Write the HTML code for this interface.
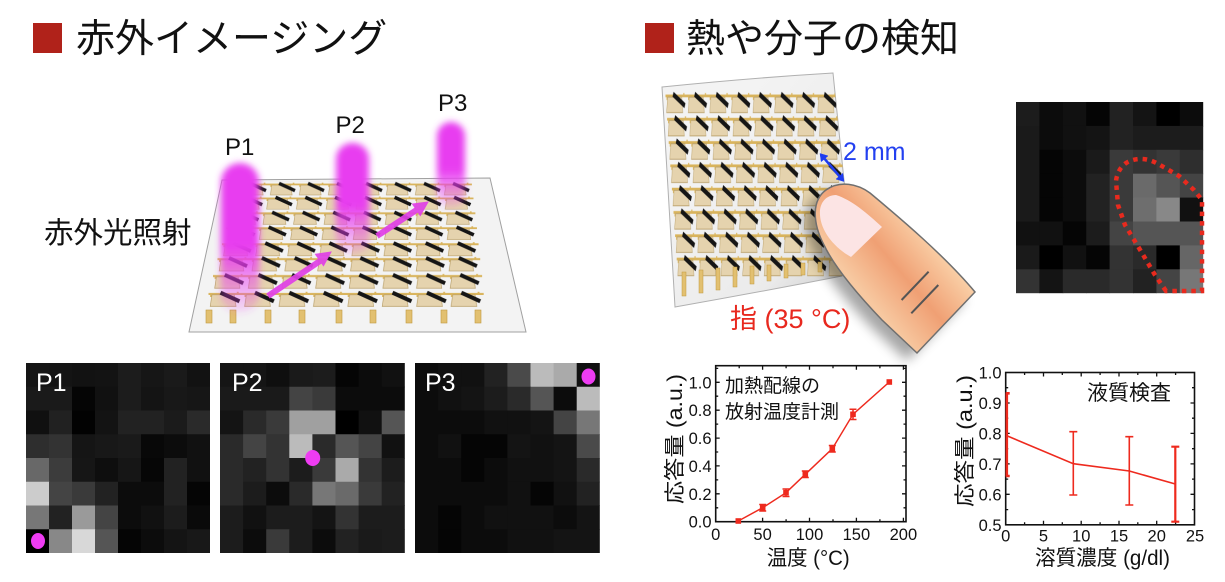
<!DOCTYPE html>
<html>
<head>
<meta charset="utf-8">
<style>
html,body{margin:0;padding:0;background:#fff;}
svg{display:block;}
.lat{font-family:"Liberation Sans",Arial,sans-serif;}
.jp{font-family:"Liberation Sans","Noto Sans CJK JP",sans-serif;}
</style>
</head>
<body>
<svg width="1225" height="582" viewBox="0 0 1225 582" xmlns="http://www.w3.org/2000/svg">
<defs>
  <pattern id="cellL" patternUnits="userSpaceOnUse" width="40" height="20">
    <path d="M0 4.5 H40" stroke="#d9b45c" stroke-width="2.4"/>
    <path d="M3 4.5 V8 M34 4.5 V2" stroke="#d9b45c" stroke-width="2.2"/>
    <polygon points="4,5.5 30,5.5 32,19 2,19" fill="#e5d3ae" stroke="#b9a06a" stroke-width="0.8"/>
    <line x1="14" y1="3" x2="36" y2="13" stroke="#151515" stroke-width="4.6"/>
  </pattern>
  <clipPath id="sheetL"><polygon points="222,180 490,178 526,332 189,332"/></clipPath>
  <clipPath id="sheetR"><path d="M662,87 Q750,78 833,73 L846,200 L842,276 Q760,292 675,307 Z"/></clipPath>
  <filter id="bl" x="-60%" y="-30%" width="220%" height="160%"><feGaussianBlur stdDeviation="3.5"/></filter>
  <filter id="sh" x="-30%" y="-30%" width="160%" height="160%"><feGaussianBlur stdDeviation="6"/></filter>
  <linearGradient id="beamG" x1="0" y1="0" x2="0" y2="1">
    <stop offset="0" stop-color="#e83cf0" stop-opacity="1"/>
    <stop offset="0.55" stop-color="#e83cf0" stop-opacity="1"/>
    <stop offset="0.78" stop-color="#e83cf0" stop-opacity="0.5"/>
    <stop offset="1" stop-color="#e83cf0" stop-opacity="0.12"/>
  </linearGradient>
  <linearGradient id="fingerG" gradientUnits="userSpaceOnUse" x1="866" y1="296" x2="930" y2="242">
    <stop offset="0" stop-color="#f7c8a0"/>
    <stop offset="0.5" stop-color="#f0a074"/>
    <stop offset="1" stop-color="#f9cda4"/>
  </linearGradient>
  <linearGradient id="sheetRG" gradientUnits="userSpaceOnUse" x1="700" y1="150" x2="850" y2="280">
    <stop offset="0" stop-color="#f3f3f3"/>
    <stop offset="0.7" stop-color="#ebebeb"/>
    <stop offset="1" stop-color="#cfcfcf"/>
  </linearGradient>
</defs>

<!-- ===== Titles ===== -->
<rect x="33" y="23" width="29" height="30" fill="#b0221a"/>
<text x="76" y="52" class="jp" font-size="39" fill="#111">赤外イメージング</text>
<rect x="645" y="23" width="29" height="30" fill="#b0221a"/>
<text x="686" y="52" class="jp" font-size="39" fill="#111">熱や分子の検知</text>

<!-- ===== Left illustration ===== -->
<text x="44" y="243" class="jp" font-size="29.5" fill="#111">赤外光照射</text>
<polygon points="222,180 490,178 526,332 189,332" fill="#f3f3f3" stroke="#a0a0a0" stroke-width="1"/>
<g clip-path="url(#sheetL)">
  <rect width="320" height="20" fill="url(#cellL)" transform="translate(239.9,181.2) scale(0.725)"/>
  <rect width="320" height="20" fill="url(#cellL)" transform="translate(235.4,195.05) scale(0.744)"/>
  <rect width="320" height="20" fill="url(#cellL)" transform="translate(230.9,209.9) scale(0.764)"/>
  <rect width="320" height="20" fill="url(#cellL)" transform="translate(226.4,224.7) scale(0.783)"/>
  <rect width="320" height="20" fill="url(#cellL)" transform="translate(221.95,240.6) scale(0.802)"/>
  <rect width="320" height="20" fill="url(#cellL)" transform="translate(217.5,255.4) scale(0.821)"/>
  <rect width="320" height="20" fill="url(#cellL)" transform="translate(213,272.3) scale(0.841)"/>
  <rect width="320" height="20" fill="url(#cellL)" transform="translate(208.5,290.1) scale(0.86)"/>
  <g fill="#e2c070" stroke="#c09a40" stroke-width="0.6">
    <rect x="206" y="310" width="6" height="13"/>
    <rect x="230" y="310" width="6" height="13"/>
    <rect x="265" y="310" width="6" height="13"/>
    <rect x="299" y="310" width="6" height="13"/>
    <rect x="336" y="310" width="6" height="13"/>
    <rect x="370" y="310" width="6" height="13"/>
    <rect x="406" y="310" width="6" height="13"/>
    <rect x="441" y="310" width="6" height="13"/>
    <rect x="475" y="310" width="6" height="13"/>
  </g>
</g>
<!-- beams -->
<rect x="221" y="163" width="38" height="150" rx="19" fill="url(#beamG)" filter="url(#bl)"/>
<rect x="336" y="143" width="33" height="112" rx="16" fill="url(#beamG)" filter="url(#bl)"/>
<rect x="437" y="122" width="28" height="86" rx="14" fill="url(#beamG)" filter="url(#bl)"/>
<!-- arrows -->
<g fill="#e040e6" stroke="#e040e6" opacity="0.92">
  <line x1="268" y1="296" x2="320" y2="261" stroke-width="6"/>
  <polygon points="331,252 323.5,265.7 315.5,254.3" stroke-width="1"/>
  <line x1="377" y1="236" x2="418" y2="209" stroke-width="6"/>
  <polygon points="428,202 420.3,215.6 412.5,204" stroke-width="1"/>
</g>
<text x="225" y="155" class="lat" font-size="24" fill="#111">P1</text>
<text x="335.5" y="133" class="lat" font-size="24" fill="#111">P2</text>
<text x="438" y="111" class="lat" font-size="24" fill="#111">P3</text>

<!-- ===== Heatmaps P1-P3 ===== -->
<g transform="translate(26,363) scale(23,23.75)">
  <g transform="translate(0,0)"><rect x="0" width="1.02" height="1.02" fill="#151515"/><rect x="1" width="1.02" height="1.02" fill="#141414"/><rect x="2" width="1.02" height="1.02" fill="#121212"/><rect x="3" width="1.02" height="1.02" fill="#131313"/><rect x="4" width="1.02" height="1.02" fill="#1c1c1c"/><rect x="5" width="1.02" height="1.02" fill="#161616"/><rect x="6" width="1.02" height="1.02" fill="#1a1a1a"/><rect x="7" width="1" height="1.02" fill="#121212"/></g>
  <g transform="translate(0,1)"><rect x="0" width="1.02" height="1.02" fill="#1a1a1a"/><rect x="1" width="1.02" height="1.02" fill="#1a1a1a"/><rect x="2" width="1.02" height="1.02" fill="#050505"/><rect x="3" width="1.02" height="1.02" fill="#111111"/><rect x="4" width="1.02" height="1.02" fill="#1c1c1c"/><rect x="5" width="1.02" height="1.02" fill="#141414"/><rect x="6" width="1.02" height="1.02" fill="#181818"/><rect x="7" width="1" height="1.02" fill="#161616"/></g>
  <g transform="translate(0,2)"><rect x="0" width="1.02" height="1.02" fill="#101010"/><rect x="1" width="1.02" height="1.02" fill="#212121"/><rect x="2" width="1.02" height="1.02" fill="#020202"/><rect x="3" width="1.02" height="1.02" fill="#131313"/><rect x="4" width="1.02" height="1.02" fill="#222222"/><rect x="5" width="1.02" height="1.02" fill="#222222"/><rect x="6" width="1.02" height="1.02" fill="#1b1b1b"/><rect x="7" width="1" height="1.02" fill="#2a2a2a"/></g>
  <g transform="translate(0,3)"><rect x="0" width="1.02" height="1.02" fill="#2e2e2e"/><rect x="1" width="1.02" height="1.02" fill="#333333"/><rect x="2" width="1.02" height="1.02" fill="#151515"/><rect x="3" width="1.02" height="1.02" fill="#181818"/><rect x="4" width="1.02" height="1.02" fill="#1a1a1a"/><rect x="5" width="1.02" height="1.02" fill="#080808"/><rect x="6" width="1.02" height="1.02" fill="#0c0c0c"/><rect x="7" width="1" height="1.02" fill="#111111"/></g>
  <g transform="translate(0,4)"><rect x="0" width="1.02" height="1.02" fill="#686868"/><rect x="1" width="1.02" height="1.02" fill="#3c3c3c"/><rect x="2" width="1.02" height="1.02" fill="#161616"/><rect x="3" width="1.02" height="1.02" fill="#0e0e0e"/><rect x="4" width="1.02" height="1.02" fill="#161616"/><rect x="5" width="1.02" height="1.02" fill="#060606"/><rect x="6" width="1.02" height="1.02" fill="#222222"/><rect x="7" width="1" height="1.02" fill="#111111"/></g>
  <g transform="translate(0,5)"><rect x="0" width="1.02" height="1.02" fill="#cccccc"/><rect x="1" width="1.02" height="1.02" fill="#444444"/><rect x="2" width="1.02" height="1.02" fill="#3a3a3a"/><rect x="3" width="1.02" height="1.02" fill="#222222"/><rect x="4" width="1.02" height="1.02" fill="#0c0c0c"/><rect x="5" width="1.02" height="1.02" fill="#0c0c0c"/><rect x="6" width="1.02" height="1.02" fill="#222222"/><rect x="7" width="1" height="1.02" fill="#050505"/></g>
  <g transform="translate(0,6)"><rect x="0" width="1.02" height="1.02" fill="#777777"/><rect x="1" width="1.02" height="1.02" fill="#222222"/><rect x="2" width="1.02" height="1.02" fill="#9a9a9a"/><rect x="3" width="1.02" height="1.02" fill="#444444"/><rect x="4" width="1.02" height="1.02" fill="#0c0c0c"/><rect x="5" width="1.02" height="1.02" fill="#111111"/><rect x="6" width="1.02" height="1.02" fill="#1c1c1c"/><rect x="7" width="1" height="1.02" fill="#0a0a0a"/></g>
  <g transform="translate(0,7)"><rect x="0" width="1.02" height="1" fill="#000000"/><rect x="1" width="1.02" height="1" fill="#888888"/><rect x="2" width="1.02" height="1" fill="#d8d8d8"/><rect x="3" width="1.02" height="1" fill="#555555"/><rect x="4" width="1.02" height="1" fill="#050505"/><rect x="5" width="1.02" height="1" fill="#0c0c0c"/><rect x="6" width="1.02" height="1" fill="#141414"/><rect x="7" width="1" height="1" fill="#181818"/></g>
</g>
<g transform="translate(220,363) scale(23.1,23.75)">
  <g transform="translate(0,0)"><rect x="0" width="1.02" height="1.02" fill="#151515"/><rect x="1" width="1.02" height="1.02" fill="#151515"/><rect x="2" width="1.02" height="1.02" fill="#0f0f0f"/><rect x="3" width="1.02" height="1.02" fill="#1a1a1a"/><rect x="4" width="1.02" height="1.02" fill="#1c1c1c"/><rect x="5" width="1.02" height="1.02" fill="#050505"/><rect x="6" width="1.02" height="1.02" fill="#0c0c0c"/><rect x="7" width="1" height="1.02" fill="#111111"/></g>
  <g transform="translate(0,1)"><rect x="0" width="1.02" height="1.02" fill="#1a1a1a"/><rect x="1" width="1.02" height="1.02" fill="#1a1a1a"/><rect x="2" width="1.02" height="1.02" fill="#1a1a1a"/><rect x="3" width="1.02" height="1.02" fill="#444444"/><rect x="4" width="1.02" height="1.02" fill="#3a3a3a"/><rect x="5" width="1.02" height="1.02" fill="#0c0c0c"/><rect x="6" width="1.02" height="1.02" fill="#0c0c0c"/><rect x="7" width="1" height="1.02" fill="#0c0c0c"/></g>
  <g transform="translate(0,2)"><rect x="0" width="1.02" height="1.02" fill="#141414"/><rect x="1" width="1.02" height="1.02" fill="#2a2a2a"/><rect x="2" width="1.02" height="1.02" fill="#3a3a3a"/><rect x="3" width="1.02" height="1.02" fill="#a0a0a0"/><rect x="4" width="1.02" height="1.02" fill="#a0a0a0"/><rect x="5" width="1.02" height="1.02" fill="#000000"/><rect x="6" width="1.02" height="1.02" fill="#111111"/><rect x="7" width="1" height="1.02" fill="#555555"/></g>
  <g transform="translate(0,3)"><rect x="0" width="1.02" height="1.02" fill="#2a2a2a"/><rect x="1" width="1.02" height="1.02" fill="#444444"/><rect x="2" width="1.02" height="1.02" fill="#333333"/><rect x="3" width="1.02" height="1.02" fill="#bbbbbb"/><rect x="4" width="1.02" height="1.02" fill="#2a2a2a"/><rect x="5" width="1.02" height="1.02" fill="#555555"/><rect x="6" width="1.02" height="1.02" fill="#444444"/><rect x="7" width="1" height="1.02" fill="#111111"/></g>
  <g transform="translate(0,4)"><rect x="0" width="1.02" height="1.02" fill="#2a2a2a"/><rect x="1" width="1.02" height="1.02" fill="#222222"/><rect x="2" width="1.02" height="1.02" fill="#333333"/><rect x="3" width="1.02" height="1.02" fill="#1c1c1c"/><rect x="4" width="1.02" height="1.02" fill="#3a3a3a"/><rect x="5" width="1.02" height="1.02" fill="#aaaaaa"/><rect x="6" width="1.02" height="1.02" fill="#333333"/><rect x="7" width="1" height="1.02" fill="#1c1c1c"/></g>
  <g transform="translate(0,5)"><rect x="0" width="1.02" height="1.02" fill="#2a2a2a"/><rect x="1" width="1.02" height="1.02" fill="#1c1c1c"/><rect x="2" width="1.02" height="1.02" fill="#0c0c0c"/><rect x="3" width="1.02" height="1.02" fill="#2a2a2a"/><rect x="4" width="1.02" height="1.02" fill="#777777"/><rect x="5" width="1.02" height="1.02" fill="#6a6a6a"/><rect x="6" width="1.02" height="1.02" fill="#3a3a3a"/><rect x="7" width="1" height="1.02" fill="#222222"/></g>
  <g transform="translate(0,6)"><rect x="0" width="1.02" height="1.02" fill="#1c1c1c"/><rect x="1" width="1.02" height="1.02" fill="#111111"/><rect x="2" width="1.02" height="1.02" fill="#1c1c1c"/><rect x="3" width="1.02" height="1.02" fill="#1c1c1c"/><rect x="4" width="1.02" height="1.02" fill="#141414"/><rect x="5" width="1.02" height="1.02" fill="#333333"/><rect x="6" width="1.02" height="1.02" fill="#1c1c1c"/><rect x="7" width="1" height="1.02" fill="#1c1c1c"/></g>
  <g transform="translate(0,7)"><rect x="0" width="1.02" height="1" fill="#1c1c1c"/><rect x="1" width="1.02" height="1" fill="#0c0c0c"/><rect x="2" width="1.02" height="1" fill="#3a3a3a"/><rect x="3" width="1.02" height="1" fill="#1c1c1c"/><rect x="4" width="1.02" height="1" fill="#0c0c0c"/><rect x="5" width="1.02" height="1" fill="#222222"/><rect x="6" width="1.02" height="1" fill="#1a1a1a"/><rect x="7" width="1" height="1" fill="#1c1c1c"/></g>
</g>
<g transform="translate(415,363) scale(23.1,23.75)">
  <g transform="translate(0,0)"><rect x="0" width="1.02" height="1.02" fill="#0c0c0c"/><rect x="1" width="1.02" height="1.02" fill="#111111"/><rect x="2" width="1.02" height="1.02" fill="#111111"/><rect x="3" width="1.02" height="1.02" fill="#222222"/><rect x="4" width="1.02" height="1.02" fill="#4a4a4a"/><rect x="5" width="1.02" height="1.02" fill="#bbbbbb"/><rect x="6" width="1.02" height="1.02" fill="#aaaaaa"/><rect x="7" width="1" height="1.02" fill="#111111"/></g>
  <g transform="translate(0,1)"><rect x="0" width="1.02" height="1.02" fill="#0c0c0c"/><rect x="1" width="1.02" height="1.02" fill="#111111"/><rect x="2" width="1.02" height="1.02" fill="#141414"/><rect x="3" width="1.02" height="1.02" fill="#1c1c1c"/><rect x="4" width="1.02" height="1.02" fill="#2a2a2a"/><rect x="5" width="1.02" height="1.02" fill="#555555"/><rect x="6" width="1.02" height="1.02" fill="#0c0c0c"/><rect x="7" width="1" height="1.02" fill="#bbbbbb"/></g>
  <g transform="translate(0,2)"><rect x="0" width="1.02" height="1.02" fill="#0c0c0c"/><rect x="1" width="1.02" height="1.02" fill="#0c0c0c"/><rect x="2" width="1.02" height="1.02" fill="#0c0c0c"/><rect x="3" width="1.02" height="1.02" fill="#111111"/><rect x="4" width="1.02" height="1.02" fill="#111111"/><rect x="5" width="1.02" height="1.02" fill="#141414"/><rect x="6" width="1.02" height="1.02" fill="#444444"/><rect x="7" width="1" height="1.02" fill="#777777"/></g>
  <g transform="translate(0,3)"><rect x="0" width="1.02" height="1.02" fill="#0c0c0c"/><rect x="1" width="1.02" height="1.02" fill="#111111"/><rect x="2" width="1.02" height="1.02" fill="#050505"/><rect x="3" width="1.02" height="1.02" fill="#050505"/><rect x="4" width="1.02" height="1.02" fill="#141414"/><rect x="5" width="1.02" height="1.02" fill="#111111"/><rect x="6" width="1.02" height="1.02" fill="#141414"/><rect x="7" width="1" height="1.02" fill="#4a4a4a"/></g>
  <g transform="translate(0,4)"><rect x="0" width="1.02" height="1.02" fill="#0c0c0c"/><rect x="1" width="1.02" height="1.02" fill="#0c0c0c"/><rect x="2" width="1.02" height="1.02" fill="#050505"/><rect x="3" width="1.02" height="1.02" fill="#0c0c0c"/><rect x="4" width="1.02" height="1.02" fill="#111111"/><rect x="5" width="1.02" height="1.02" fill="#111111"/><rect x="6" width="1.02" height="1.02" fill="#141414"/><rect x="7" width="1" height="1.02" fill="#2a2a2a"/></g>
  <g transform="translate(0,5)"><rect x="0" width="1.02" height="1.02" fill="#0c0c0c"/><rect x="1" width="1.02" height="1.02" fill="#0c0c0c"/><rect x="2" width="1.02" height="1.02" fill="#0c0c0c"/><rect x="3" width="1.02" height="1.02" fill="#0c0c0c"/><rect x="4" width="1.02" height="1.02" fill="#111111"/><rect x="5" width="1.02" height="1.02" fill="#050505"/><rect x="6" width="1.02" height="1.02" fill="#111111"/><rect x="7" width="1" height="1.02" fill="#222222"/></g>
  <g transform="translate(0,6)"><rect x="0" width="1.02" height="1.02" fill="#0c0c0c"/><rect x="1" width="1.02" height="1.02" fill="#050505"/><rect x="2" width="1.02" height="1.02" fill="#0c0c0c"/><rect x="3" width="1.02" height="1.02" fill="#111111"/><rect x="4" width="1.02" height="1.02" fill="#111111"/><rect x="5" width="1.02" height="1.02" fill="#111111"/><rect x="6" width="1.02" height="1.02" fill="#0c0c0c"/><rect x="7" width="1" height="1.02" fill="#141414"/></g>
  <g transform="translate(0,7)"><rect x="0" width="1.02" height="1" fill="#0c0c0c"/><rect x="1" width="1.02" height="1" fill="#050505"/><rect x="2" width="1.02" height="1" fill="#0c0c0c"/><rect x="3" width="1.02" height="1" fill="#0c0c0c"/><rect x="4" width="1.02" height="1" fill="#111111"/><rect x="5" width="1.02" height="1" fill="#111111"/><rect x="6" width="1.02" height="1" fill="#141414"/><rect x="7" width="1" height="1" fill="#141414"/></g>
</g>
<!-- dots & labels -->
<ellipse cx="38" cy="541" rx="7" ry="8" fill="#ee3cf2"/>
<ellipse cx="312.7" cy="458" rx="7.5" ry="8" fill="#ee3cf2"/>
<ellipse cx="588.5" cy="376.5" rx="7" ry="8" fill="#ee3cf2"/>
<text x="36" y="391" class="lat" font-size="25" fill="#fff">P1</text>
<text x="232" y="391" class="lat" font-size="25" fill="#fff">P2</text>
<text x="425" y="391" class="lat" font-size="25" fill="#fff">P3</text>

<!-- ===== Right illustration ===== -->
<path d="M662,87 Q750,78 833,73 L846,200 L842,276 Q760,292 675,307 Z" fill="url(#sheetRG)" stroke="#b0b0b0" stroke-width="1"/>
<g clip-path="url(#sheetR)">
  <rect width="320" height="20" fill="url(#cellL)" transform="translate(665.5,90.8) scale(0.54,1.15)"/>
  <rect width="320" height="20" fill="url(#cellL)" transform="translate(667.1,114.1) scale(0.54,1.15)"/>
  <rect width="320" height="20" fill="url(#cellL)" transform="translate(668.7,137.4) scale(0.54,1.15)"/>
  <rect width="320" height="20" fill="url(#cellL)" transform="translate(670.3,160.7) scale(0.54,1.15)"/>
  <rect width="320" height="20" fill="url(#cellL)" transform="translate(671.9,184) scale(0.54,1.15)"/>
  <rect width="320" height="20" fill="url(#cellL)" transform="translate(673.5,207.3) scale(0.54,1.15)"/>
  <rect width="320" height="20" fill="url(#cellL)" transform="translate(675.1,230.6) scale(0.54,1.15)"/>
  <rect width="320" height="20" fill="url(#cellL)" transform="translate(676.7,253.9) scale(0.54,1.15)"/>
  <g fill="#e2c070" stroke="#c09a40" stroke-width="0.5">
    <rect x="682" y="272" width="4" height="24"/>
    <rect x="699" y="270" width="4" height="23"/>
    <rect x="716" y="268" width="4" height="22"/>
    <rect x="733" y="267" width="4" height="20"/>
    <rect x="750" y="266" width="4" height="18"/>
    <rect x="767" y="265" width="4" height="16"/>
    <rect x="784" y="264" width="4" height="14"/>
    <rect x="801" y="263" width="4" height="12"/>
    <rect x="818" y="262" width="4" height="10"/>
  </g>
</g>
<!-- finger -->
<path d="M917,353 L882,320 C860,297 835,268 824,245 C812,222 812,200 826,190 C840,180 858,184 870,193 C900,218 945,256 975,292 Z" fill="#000" opacity="0.35" filter="url(#sh)" transform="translate(-10,8)"/>
<path d="M917,353 L882,320 C860,297 835,268 824,245 C812,222 812,200 826,190 C840,180 858,184 870,193 C900,218 945,256 975,292 Z" fill="url(#fingerG)" stroke="#6f6f6f" stroke-width="1.5"/>
<path d="M836,195 C826,195 819,203 820,215 C821,232 835,248 851,257 L882,227 C868,214 852,200 836,195 Z" fill="#fce4e4"/>
<line x1="928.6" y1="271.7" x2="901.6" y2="300" stroke="#555" stroke-width="2"/>
<line x1="938.3" y1="285" x2="911.3" y2="313.3" stroke="#555" stroke-width="2"/>
<!-- blue arrow -->
<g stroke="#1e3cf0" fill="#1e3cf0">
  <line x1="824.6" y1="158.8" x2="839.4" y2="176.2" stroke-width="2.5"/>
  <polygon points="820,153.5 828,155.9 821.2,161.7" stroke-width="0.5"/>
  <polygon points="844,181.5 842.8,173.3 836,179.1" stroke-width="0.5"/>
</g>
<text x="843" y="160" class="lat" font-size="25" fill="#2340f0">2 mm</text>
<text x="730" y="328" class="jp" font-size="27" fill="#e8281e">指 (35 °C)</text>

<!-- right heatmap -->
<g transform="translate(1016,102) scale(23.4,23.9)">
  <g transform="translate(0,0)"><rect x="0" width="1.02" height="1.02" fill="#1c1c1c"/><rect x="1" width="1.02" height="1.02" fill="#0c0c0c"/><rect x="2" width="1.02" height="1.02" fill="#111111"/><rect x="3" width="1.02" height="1.02" fill="#050505"/><rect x="4" width="1.02" height="1.02" fill="#222222"/><rect x="5" width="1.02" height="1.02" fill="#141414"/><rect x="6" width="1.02" height="1.02" fill="#000000"/><rect x="7" width="1" height="1.02" fill="#0c0c0c"/></g>
  <g transform="translate(0,1)"><rect x="0" width="1.02" height="1.02" fill="#1a1a1a"/><rect x="1" width="1.02" height="1.02" fill="#0c0c0c"/><rect x="2" width="1.02" height="1.02" fill="#111111"/><rect x="3" width="1.02" height="1.02" fill="#141414"/><rect x="4" width="1.02" height="1.02" fill="#222222"/><rect x="5" width="1.02" height="1.02" fill="#1c1c1c"/><rect x="6" width="1.02" height="1.02" fill="#1c1c1c"/><rect x="7" width="1" height="1.02" fill="#1c1c1c"/></g>
  <g transform="translate(0,2)"><rect x="0" width="1.02" height="1.02" fill="#1a1a1a"/><rect x="1" width="1.02" height="1.02" fill="#050505"/><rect x="2" width="1.02" height="1.02" fill="#0c0c0c"/><rect x="3" width="1.02" height="1.02" fill="#1a1a1a"/><rect x="4" width="1.02" height="1.02" fill="#3a3a3a"/><rect x="5" width="1.02" height="1.02" fill="#333333"/><rect x="6" width="1.02" height="1.02" fill="#3a3a3a"/><rect x="7" width="1" height="1.02" fill="#2e2e2e"/></g>
  <g transform="translate(0,3)"><rect x="0" width="1.02" height="1.02" fill="#1a1a1a"/><rect x="1" width="1.02" height="1.02" fill="#050505"/><rect x="2" width="1.02" height="1.02" fill="#0c0c0c"/><rect x="3" width="1.02" height="1.02" fill="#222222"/><rect x="4" width="1.02" height="1.02" fill="#3a3a3a"/><rect x="5" width="1.02" height="1.02" fill="#6a6a6a"/><rect x="6" width="1.02" height="1.02" fill="#555555"/><rect x="7" width="1" height="1.02" fill="#444444"/></g>
  <g transform="translate(0,4)"><rect x="0" width="1.02" height="1.02" fill="#1a1a1a"/><rect x="1" width="1.02" height="1.02" fill="#050505"/><rect x="2" width="1.02" height="1.02" fill="#0c0c0c"/><rect x="3" width="1.02" height="1.02" fill="#222222"/><rect x="4" width="1.02" height="1.02" fill="#3a3a3a"/><rect x="5" width="1.02" height="1.02" fill="#6e6e6e"/><rect x="6" width="1.02" height="1.02" fill="#888888"/><rect x="7" width="1" height="1.02" fill="#111111"/></g>
  <g transform="translate(0,5)"><rect x="0" width="1.02" height="1.02" fill="#111111"/><rect x="1" width="1.02" height="1.02" fill="#111111"/><rect x="2" width="1.02" height="1.02" fill="#050505"/><rect x="3" width="1.02" height="1.02" fill="#1c1c1c"/><rect x="4" width="1.02" height="1.02" fill="#444444"/><rect x="5" width="1.02" height="1.02" fill="#555555"/><rect x="6" width="1.02" height="1.02" fill="#555555"/><rect x="7" width="1" height="1.02" fill="#555555"/></g>
  <g transform="translate(0,6)"><rect x="0" width="1.02" height="1.02" fill="#1a1a1a"/><rect x="1" width="1.02" height="1.02" fill="#000000"/><rect x="2" width="1.02" height="1.02" fill="#111111"/><rect x="3" width="1.02" height="1.02" fill="#050505"/><rect x="4" width="1.02" height="1.02" fill="#333333"/><rect x="5" width="1.02" height="1.02" fill="#2a2a2a"/><rect x="6" width="1.02" height="1.02" fill="#000000"/><rect x="7" width="1" height="1.02" fill="#666666"/></g>
  <g transform="translate(0,7)"><rect x="0" width="1.02" height="1" fill="#333333"/><rect x="1" width="1.02" height="1" fill="#141414"/><rect x="2" width="1.02" height="1" fill="#2a2a2a"/><rect x="3" width="1.02" height="1" fill="#2a2a2a"/><rect x="4" width="1.02" height="1" fill="#333333"/><rect x="5" width="1.02" height="1" fill="#222222"/><rect x="6" width="1.02" height="1" fill="#444444"/><rect x="7" width="1" height="1" fill="#777777"/></g>
</g>
<path d="M1166,291 L1155,275 L1139,248 L1125,225 L1118,205 L1116,181 C1117,172 1122,164 1130,161 C1140,157 1150,159 1160,165 L1179,176 L1194,190 L1202,200 L1202,291 Z" fill="none" stroke="#e82a1e" stroke-width="4.5" stroke-dasharray="4.5 5"/>

<!-- ===== Chart 1 ===== -->
<g class="lat" font-size="16.5" fill="#111">
  <text x="711.5" y="527.7" text-anchor="end">0.0</text>
  <text x="711.5" y="499.8" text-anchor="end">0.2</text>
  <text x="711.5" y="471.9" text-anchor="end">0.4</text>
  <text x="711.5" y="444.1" text-anchor="end">0.6</text>
  <text x="711.5" y="416.2" text-anchor="end">0.8</text>
  <text x="711.5" y="388.3" text-anchor="end">1.0</text>
  <text x="715.7" y="540" text-anchor="middle">0</text>
  <text x="762.6" y="540" text-anchor="middle">50</text>
  <text x="809.5" y="540" text-anchor="middle">100</text>
  <text x="856.4" y="540" text-anchor="middle">150</text>
  <text x="903.4" y="540" text-anchor="middle">200</text>
</g>
<path d="M715.7 521.7h4M715.7 507.8h2.5M715.7 493.8h4M715.7 479.9h2.5M715.7 465.9h4M715.7 452h2.5M715.7 438.1h4M715.7 424.1h2.5M715.7 410.2h4M715.7 396.2h2.5M715.7 382.3h4M715.7 368.4h2.5
M906 521.7h-4M906 507.8h-2.5M906 493.8h-4M906 479.9h-2.5M906 465.9h-4M906 452h-2.5M906 438.1h-4M906 424.1h-2.5M906 410.2h-4M906 396.2h-2.5M906 382.3h-4M906 368.4h-2.5
M739.2 521.7v-2.5M762.6 521.7v-4M786.1 521.7v-2.5M809.5 521.7v-4M833 521.7v-2.5M856.4 521.7v-4M879.9 521.7v-2.5M903.4 521.7v-4
M739.2 365.7v2.5M762.6 365.7v4M786.1 365.7v2.5M809.5 365.7v4M833 365.7v2.5M856.4 365.7v4M879.9 365.7v2.5M903.4 365.7v4" stroke="#111" stroke-width="1.3" fill="none"/>
<rect x="715.7" y="365.7" width="190.3" height="156" fill="none" stroke="#111" stroke-width="1.6"/>
<text x="725" y="392" class="jp" font-size="19" fill="#111">加熱配線の</text>
<text x="725" y="418" class="jp" font-size="19" fill="#111">放射温度計測</text>
<text x="766.7" y="565" class="jp" font-size="21" fill="#111" textLength="83" lengthAdjust="spacingAndGlyphs">温度 (°C)</text>
<text transform="translate(682,439) rotate(-90)" text-anchor="middle" class="jp" font-size="21" fill="#111" textLength="130" lengthAdjust="spacingAndGlyphs">応答量 (a.u.)</text>
<g stroke="#ee2a1e" fill="none" stroke-width="1.5">
  <polyline points="738.3,521 762.7,507.7 786,492.7 805.3,474.3 832.3,448.7 853,414.3 889.3,382"/>
  <path d="M762.7 504.5V511M759.2 504.5h7M759.2 511h7
  M786 489V496.5M782.5 489h7M782.5 496.5h7
  M805.3 471V477.5M801.8 471h7M801.8 477.5h7
  M832.3 445.5V452M828.8 445.5h7M828.8 452h7
  M853 409.3V419.5M849.5 409.3h7M849.5 419.5h7
  M889.3 380V384"/>
</g>
<g fill="#ee2a1e">
  <rect x="735.5" y="518.2" width="5.6" height="5.6"/>
  <rect x="759.9" y="504.9" width="5.6" height="5.6"/>
  <rect x="783.2" y="489.9" width="5.6" height="5.6"/>
  <rect x="802.5" y="471.5" width="5.6" height="5.6"/>
  <rect x="829.5" y="445.9" width="5.6" height="5.6"/>
  <rect x="850.2" y="411.5" width="5.6" height="5.6"/>
  <rect x="886.5" y="379.2" width="5.6" height="5.6"/>
</g>

<!-- ===== Chart 2 ===== -->
<g class="lat" font-size="16.5" fill="#111">
  <text x="1001.5" y="530.8" text-anchor="end">0.5</text>
  <text x="1001.5" y="500.3" text-anchor="end">0.6</text>
  <text x="1001.5" y="469.9" text-anchor="end">0.7</text>
  <text x="1001.5" y="439.4" text-anchor="end">0.8</text>
  <text x="1001.5" y="409" text-anchor="end">0.9</text>
  <text x="1001.5" y="378.5" text-anchor="end">1.0</text>
  <text x="1005.7" y="541.5" text-anchor="middle">0</text>
  <text x="1043.5" y="541.5" text-anchor="middle">5</text>
  <text x="1081.2" y="541.5" text-anchor="middle">10</text>
  <text x="1119" y="541.5" text-anchor="middle">15</text>
  <text x="1156.7" y="541.5" text-anchor="middle">20</text>
  <text x="1195" y="541.5" text-anchor="middle">25</text>
</g>
<path d="M1005.7 509.6h2.5M1005.7 494.3h4M1005.7 479.1h2.5M1005.7 463.9h4M1005.7 448.7h2.5M1005.7 433.4h4M1005.7 418.2h2.5M1005.7 403h4M1005.7 387.7h2.5
M1194.5 509.6h-2.5M1194.5 494.3h-4M1194.5 479.1h-2.5M1194.5 463.9h-4M1194.5 448.7h-2.5M1194.5 433.4h-4M1194.5 418.2h-2.5M1194.5 403h-4M1194.5 387.7h-2.5
M1024.6 524.8v-2.5M1043.5 524.8v-4M1062.3 524.8v-2.5M1081.2 524.8v-4M1100.1 524.8v-2.5M1119 524.8v-4M1137.8 524.8v-2.5M1156.7 524.8v-4M1175.6 524.8v-2.5
M1024.6 372.5v2.5M1043.5 372.5v4M1062.3 372.5v2.5M1081.2 372.5v4M1100.1 372.5v2.5M1119 372.5v4M1137.8 372.5v2.5M1156.7 372.5v4M1175.6 372.5v2.5" stroke="#111" stroke-width="1.3" fill="none"/>
<rect x="1005.7" y="372.5" width="188.8" height="152.3" fill="none" stroke="#111" stroke-width="1.6"/>
<text x="1087" y="400" class="jp" font-size="21" fill="#111">液質検査</text>
<text x="1035" y="565" class="jp" font-size="21" fill="#111" textLength="135" lengthAdjust="spacingAndGlyphs">溶質濃度 (g/dl)</text>
<text transform="translate(972,441) rotate(-90)" text-anchor="middle" class="jp" font-size="21" fill="#111" textLength="132" lengthAdjust="spacingAndGlyphs">応答量 (a.u.)</text>
<g stroke="#ee2a1e" fill="none">
  <polyline points="1005.7,435.3 1073.3,463.7 1129.3,471 1175.3,484" stroke-width="1.6"/>
  <path d="M1006.8 393.3V476M1005.7 393.3h4M1005.7 476h4" stroke-width="2.6"/>
  <path d="M1073.3 431.7V495M1069.3 431.7h8M1069.3 495h8" stroke-width="1.6"/>
  <path d="M1129.3 436.7V505M1125.3 436.7h8M1125.3 505h8" stroke-width="1.6"/>
  <path d="M1175.3 446.7V521.7M1171.3 446.7h8M1171.3 521.7h8" stroke-width="2.2"/>
</g>
</svg>
</body>
</html>
